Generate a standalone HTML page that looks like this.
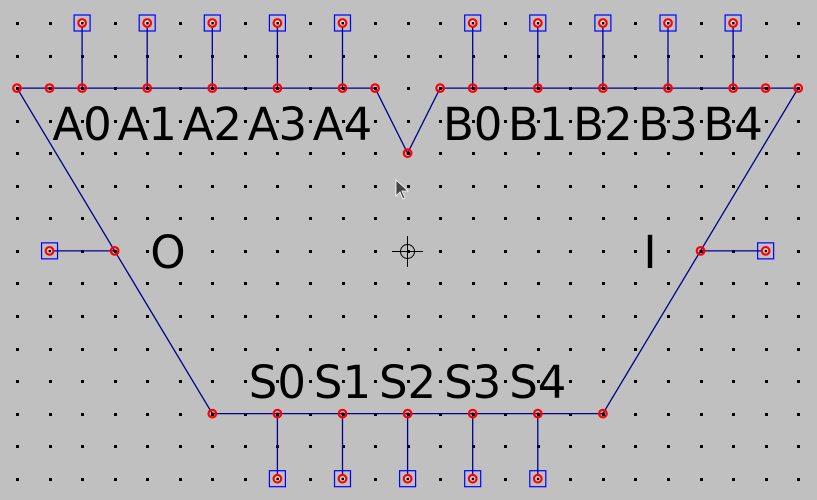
<!DOCTYPE html>
<html><head><meta charset="utf-8"><style>
html,body{margin:0;padding:0;background:#c0c0c0;}
svg{display:block}
</style></head><body>
<svg id="sch" width="817" height="500" xmlns="http://www.w3.org/2000/svg"></svg>
<script>
const X0 = 17, Y0 = 23, STEP = 32.55;
const COLS = 25, ROWS = 15;
const aPinCols = [2, 4, 6, 8, 10];
const bPinCols = [14, 16, 18, 20, 22];
const sPinCols = [8, 10, 12, 14, 16];
const aLabels = ["A0", "A1", "A2", "A3", "A4"];
const bLabels = ["B0", "B1", "B2", "B3", "B4"];
const sLabels = ["S0", "S1", "S2", "S3", "S4"];
const topJoints = [0, 1, 2, 4, 6, 8, 10, 11, 13, 14, 16, 18, 20, 22, 23, 24];
const bottomJoints = [6, 8, 10, 12, 14, 16, 18];

const NS = "http://www.w3.org/2000/svg";
const svg = document.getElementById('sch');
const gx = c => X0 + c * STEP;
const gy = r => Y0 + r * STEP;
function mk(tag, attrs, parent) {
  const e = document.createElementNS(NS, tag);
  for (const k in attrs) e.setAttribute(k, attrs[k]);
  (parent || svg).appendChild(e);
  return e;
}
const grid = mk('g', {});


for (let c = 0; c < COLS; c++) for (let r = 0; r < ROWS; r++) {
  mk('rect', {x: Math.round(gx(c)) - 1, y: Math.round(gy(r)) - 1, width: 3, height: 3, fill: '#000'}, grid);
}
const W = '#00008b';
function wire(pts, name) {
  const p = mk('polyline', {points: pts.map(q => gx(q[0]) + ',' + gy(q[1])).join(' '), fill: 'none', stroke: W, 'stroke-width': 1.3});
  
  
}
function joint(c, r, name) {
  const g = mk('g', {});
  
  
  mk('circle', {cx: gx(c), cy: gy(r), r: 3.8, fill: 'none', stroke: '#f00', 'stroke-width': 2.2}, g);
  mk('rect', {x: gx(c) - 1, y: gy(r) - 1, width: 2.5, height: 2.5, fill: '#000'}, g);
}
function pin(c, r, name) {
  const g = mk('g', {});
  
  
  mk('rect', {x: gx(c) - 8, y: gy(r) - 8, width: 16, height: 16, fill: 'none', stroke: '#0000ff', 'stroke-width': 1.2}, g);
  mk('circle', {cx: gx(c), cy: gy(r), r: 3.8, fill: '#e8e8e8', stroke: '#f00', 'stroke-width': 2.2}, g);
  mk('rect', {x: gx(c) - 1, y: gy(r) - 1, width: 2.5, height: 2.5, fill: '#000'}, g);
}
function label(txt, x, y, name) {
  const t = mk('text', {x: x, y: y, 'text-anchor': 'middle', 'font-family': 'DejaVu Sans, Liberation Sans, sans-serif', 'font-size': 45, fill: '#000'});
  t.textContent = txt;
  
  
}
wire([[0,2],[11,2],[12,4],[13,2],[24,2],[18,12],[6,12],[0,2]], 'alu-outline');
wire([[1,7],[3,7]], 'o-wire');
wire([[21,7],[23,7]], 'i-wire');
aPinCols.forEach((c, i) => { wire([[c,0],[c,2]], 'a' + i + '-wire'); });
bPinCols.forEach((c, i) => { wire([[c,0],[c,2]], 'b' + i + '-wire'); });
sPinCols.forEach((c, i) => { wire([[c,12],[c,14]], 's' + i + '-wire'); });
topJoints.forEach(c => joint(c, 2, 'top-joint'));
bottomJoints.forEach(c => joint(c, 12, 'bottom-joint'));
joint(12, 4, 'notch-joint');
joint(3, 7, 'o-joint');
joint(21, 7, 'i-joint');
aPinCols.forEach((c, i) => pin(c, 0, 'pin-a' + i));
bPinCols.forEach((c, i) => pin(c, 0, 'pin-b' + i));
sPinCols.forEach((c, i) => pin(c, 14, 'pin-s' + i));
pin(1, 7, 'pin-o');
pin(23, 7, 'pin-i');
aPinCols.forEach((c, i) => label(aLabels[i], gx(c), 140, 'label-' + aLabels[i].toLowerCase()));
bPinCols.forEach((c, i) => label(bLabels[i], gx(c), 140, 'label-' + bLabels[i].toLowerCase()));
sPinCols.forEach((c, i) => label(sLabels[i], gx(c), 398, 'label-' + sLabels[i].toLowerCase()));
label('O', 168, 268, 'label-o');
label('I', 650, 268, 'label-i');
const ch = mk('g', {stroke: '#000', 'stroke-width': 1, fill: 'none'});


mk('circle', {cx: 407.5, cy: 251.5, r: 7}, ch);
mk('line', {x1: 392, y1: 251.5, x2: 423, y2: 251.5}, ch);
mk('line', {x1: 407.5, y1: 236, x2: 407.5, y2: 267}, ch);
const cur = mk('path', {d: 'M396 180 L396 196 L400 192 L403 199 L405 198 L402 191 L408 191 Z', fill: '#444', stroke: '#fff', 'stroke-width': 0.8});


</script>
</body></html>
